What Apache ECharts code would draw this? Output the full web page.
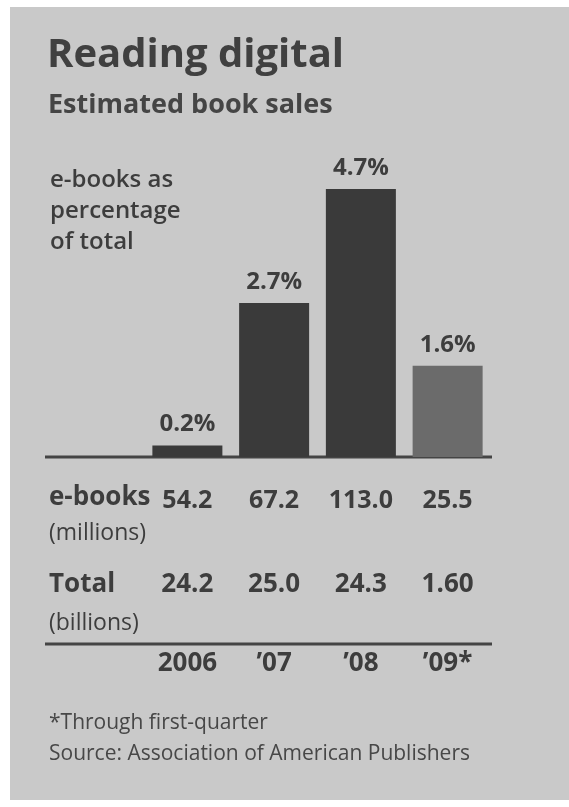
<!DOCTYPE html>
<html>
<head>
<meta charset="utf-8">
<script src="https://cdn.jsdelivr.net/npm/echarts@6/dist/echarts.min.js"></script>
<style>
  body { margin: 0; background: #fff; }
  #paper { position: absolute; left: 10px; top: 7px; width: 559px; height: 793px; background: #c9c9c9; }
  #chart { position: absolute; left: 0; top: 0; width: 569px; height: 807px; }
</style>
</head>
<body>
<div id="paper"></div>
<div id="chart"></div>
<script>
// data
var years = ["2006", "\u201907", "\u201908", "\u201909*"];
var share = [0.2, 2.7, 4.7, 1.6];          // e-books as % of total
var ebooks = ["54.2", "67.2", "113.0", "25.5"]; // millions
var totals = ["24.2", "25.0", "24.3", "1.60"];  // billions

var FONT = "Open Sans";
var ink = "#3d3d3d";

var myChart = echarts.init(document.getElementById("chart"));

// row of text under the bars, drawn as an extra category axis
function rowAxis(data, offset, size) {
  return {
    type: "category",
    data: data,
    position: "bottom",
    offset: offset,
    axisLine: { show: false },
    axisTick: { show: false },
    axisLabel: {
      margin: 0,
      color: ink,
      fontFamily: FONT,
      fontSize: size,
      fontWeight: "bold"
    }
  };
}

myChart.setOption({
  backgroundColor: "transparent",
  animation: false,
  title: [
    {
      text: "Reading digital",
      left: 47, top: 36, padding: 0,
      textStyle: { fontFamily: FONT, fontSize: 40, fontWeight: "bold", color: "#404040" }
    },
    {
      text: "Estimated book sales",
      left: 48, top: 92, padding: 0,
      textStyle: { fontFamily: FONT, fontSize: 27, fontWeight: "bold", color: "#454545" }
    }
  ],
  grid: { left: 144, right: 78, top: 172, bottom: 350 },
  xAxis: [
    {
      type: "category",
      data: years,
      axisLine: { show: false },
      axisTick: { show: false },
      axisLabel: { show: false }
    },
    rowAxis(ebooks, 31, 25),
    rowAxis(totals, 115, 26),
    rowAxis(years, 194, 26)
  ],
  yAxis: {
    type: "value",
    min: 0,
    max: 5,
    show: false
  },
  series: [
    {
      type: "bar",
      data: share.map(function (v, i) {
        return {
          value: v,
          itemStyle: { color: i === 3 ? "#6b6b6b" : "#3a3a3a" }
        };
      }),
      barWidth: 70,
      label: {
        show: true,
        position: "top",
        distance: 9,
        formatter: "{c}%",
        color: ink,
        fontFamily: FONT,
        fontSize: 24,
        fontWeight: "bold"
      }
    }
  ],
  graphic: [
    // left caption
    { type: "text", left: 50, top: 165, style: { text: "e-books as\npercentage\nof total", font: "600 24px 'Open Sans'", fill: ink, lineHeight: 31 } },
    // baselines
    { type: "line", shape: { x1: 45, y1: 457, x2: 492, y2: 457 }, style: { stroke: "#444", lineWidth: 3 } },
    { type: "line", shape: { x1: 45, y1: 644, x2: 492, y2: 644 }, style: { stroke: "#444", lineWidth: 3 } },
    // row labels
    { type: "text", left: 49, top: 485, style: { text: "e-books", font: "bold 26px 'Open Sans'", fill: ink } },
    { type: "text", left: 49, top: 522, style: { text: "(millions)", font: "23px 'Open Sans'", fill: ink } },
    { type: "text", left: 49, top: 572, style: { text: "Total", font: "bold 26px 'Open Sans'", fill: ink } },
    { type: "text", left: 49, top: 612, style: { text: "(billions)", font: "23px 'Open Sans'", fill: ink } },
    // notes
    { type: "text", left: 49, top: 713, style: { text: "*Through first-quarter", font: "21px 'Open Sans'", fill: "#474747" } },
    { type: "text", left: 49, top: 744, style: { text: "Source: Association of American Publishers", font: "21px 'Open Sans'", fill: "#474747" } }
  ]
});

window.addEventListener("resize", function () {
  myChart.resize();
});
</script>
</body>
</html>
